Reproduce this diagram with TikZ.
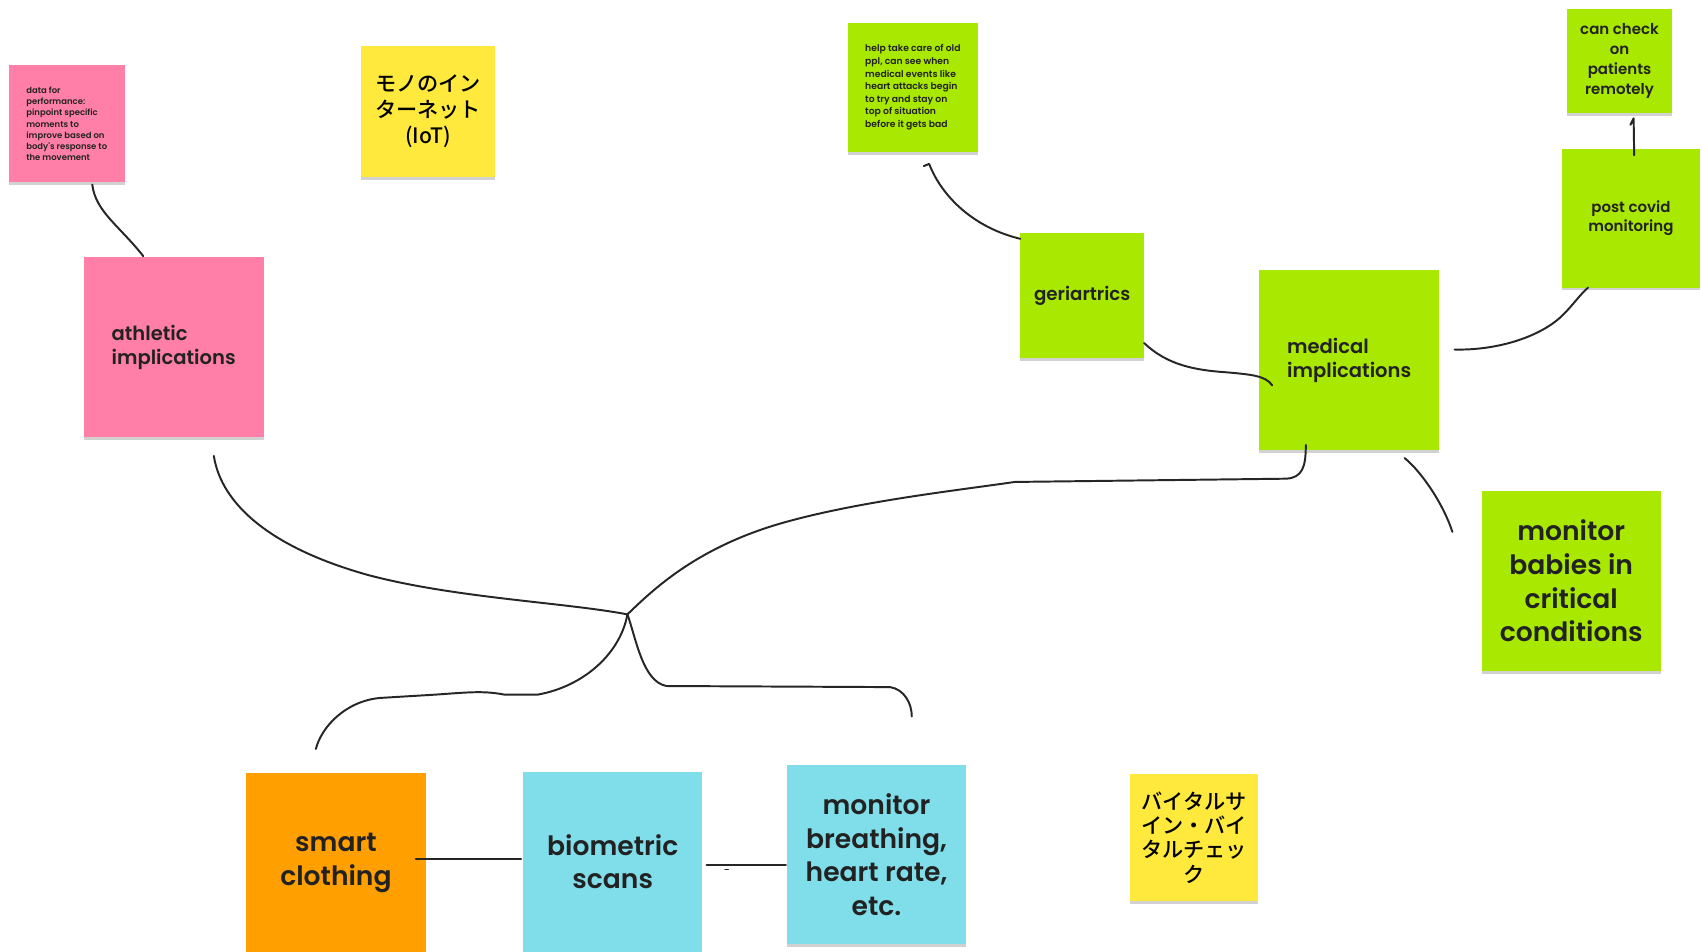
\documentclass[tikz,border=0pt]{standalone}
\usepackage{fontspec}
\setmainfont{Poppins}
\newfontfamily\semib{Poppins}[UprightFont={* SemiBold}]
\newfontfamily\jp{Noto Sans CJK JP}[UprightFont={* Medium}]
\usetikzlibrary{calc,shadows}
\definecolor{notepink}{HTML}{FF7FA8}
\definecolor{noteyellow}{HTML}{FFE93C}
\definecolor{notegreen}{HTML}{A9E800}
\definecolor{noteorange}{HTML}{FFA000}
\definecolor{notecyan}{HTML}{80DEEA}
\definecolor{ink}{HTML}{262626}
\definecolor{txt}{HTML}{222222}
\tikzset{
  note/.style={anchor=north west, inner sep=0pt, outer sep=0pt, align=center, text=txt,
    drop shadow={shadow xshift=0pt, shadow yshift=-2.5pt, opacity=0.18, fill=black}},
  conn/.style={draw=ink, line width=1.8pt, line cap=round, line join=round},
}
\begin{document}
\begin{tikzpicture}[x=1pt,y=-1pt]
\useasboundingbox (0,0) rectangle (1568,877);
\fill[white] (0,0) rectangle (1568,877);

% notes
\node[note, fill=notepink, minimum width=107pt, minimum height=108pt, align=left,
  font=\semib\fontsize{7.8}{10.3}\selectfont] (perf) at (8,60)
  {data for\\performance:\\pinpoint specific\\moments to\\improve based on\\body's response to\\the movement};
\node[note, fill=noteyellow, minimum width=123pt, minimum height=121pt,
  font=\jp\fontsize{19.5}{24}\selectfont, text=black] (iot) at (333,42)
  {モノのイン\\ターネット\\(IoT)};
\node[note, fill=notepink, minimum width=166pt, minimum height=166pt, align=left,
  font=\semib\fontsize{18}{22}\selectfont] (athl) at (77,237)
  {athletic\\implications};
\node[note, fill=notegreen, minimum width=120pt, minimum height=119pt, align=left,
  font=\semib\fontsize{8.5}{11.6}\selectfont] (help) at (781,21)
  {help take care of old\\ppl, can see when\\medical events like\\heart attacks begin\\to try and stay on\\top of situation\\before it gets bad};
\node[note, fill=notegreen, minimum width=96pt, minimum height=96pt,
  font=\semib\fontsize{13.8}{18.5}\selectfont] (check) at (1444,8)
  {can check\\on\\patients\\remotely};
\node[note, fill=notegreen, minimum width=127pt, minimum height=128pt,
  font=\semib\fontsize{13.8}{18}\selectfont] (covid) at (1439,137)
  {post covid\\monitoring};
\node[note, fill=notegreen, minimum width=114pt, minimum height=115pt,
  font=\semib\fontsize{16.8}{20}\selectfont] (geri) at (940,215)
  {geriartrics};
\node[note, fill=notegreen, minimum width=166pt, minimum height=166pt, align=left,
  font=\semib\fontsize{18}{22}\selectfont] (med) at (1160,249)
  {medical\\implications};
\node[note, fill=notegreen, minimum width=165pt, minimum height=166pt,
  font=\semib\fontsize{24.5}{31.3}\selectfont] (babies) at (1365,452)
  {monitor\\babies in\\critical\\conditions};
\node[note, fill=noteorange, minimum width=165pt, minimum height=166pt,
  font=\semib\fontsize{24.5}{31}\selectfont] (smart) at (227,712)
  {smart\\clothing};
\node[note, fill=notecyan, minimum width=165pt, minimum height=166pt,
  font=\semib\fontsize{24.5}{31}\selectfont] (bio) at (482,711)
  {biometric\\scans};
\node[note, fill=notecyan, minimum width=165pt, minimum height=165pt,
  font=\semib\fontsize{24.5}{31}\selectfont] (breath) at (725,705)
  {monitor\\breathing,\\heart rate,\\etc.};
\node[note, fill=noteyellow, minimum width=118pt, minimum height=117pt,
  font=\jp\fontsize{19.5}{22.5}\selectfont, text=black] (vital) at (1041,713)
  {バイタルサ\\イン・バイ\\タルチェッ\\ク};

\coordinate (hub) at (578,566);

% connectors
\draw[conn] ($(perf.south west)+(77,2)$) .. controls +(3,25) and +(-22,-28) .. ($(athl.north west)+(55,-1)$);
\draw[conn] ($(athl.south west)+(120,17)$) .. controls (204,465) and (250,505) .. (340,530)
  .. controls (420,551) and (520,555) .. (hub);
\draw[conn] (hub) .. controls (600,545) and (640,505) .. (720,482)
  .. controls (790,462) and (880,452) .. (935,444) -- (1185,441)
  .. controls (1200,440) and (1203,430) .. ($(med.south west)+(43,-5)$);
\draw[conn] (hub) .. controls (572,600) and (540,632) .. (495,640) -- (465,640)
  .. controls (445,636) and (430,638) .. (400,640) -- (350,643)
  .. controls (318,646) and (296,670) .. ($(smart.north west)+(64,-22)$);
\draw[conn] (hub) .. controls (586,588) and (592,628) .. (614,632) -- (820,633)
  .. controls (833,635) and (840,648) .. ($(breath.north west)+(115,-45)$);
\draw[conn] ($(smart.east)+(-9,-4)$) -- ($(bio.west)+(-2,-3)$);
\draw[conn] ($(bio.east)+(4,3)$) -- ($(breath.west)+(-1,9.5)$);
\draw[conn, line width=1.4pt] ($(bio.east)+(21,7)$) -- ($(bio.east)+(24,7)$);
\draw[conn] ($(geri.south east)+(0,-14)$) .. controls (1075,336) and (1100,341) .. (1130,343)
  .. controls (1152,345) and (1166,346) .. ($(med.west)+(12,23)$);
\draw[conn] ($(help.south west)+(70,13)$) -- ($(help.south west)+(75,11)$)
  .. controls (868,182) and (898,210) .. ($(geri.north west)+(0,5)$);
\draw[conn] ($(med.east)+(14,-10)$) .. controls (1380,323) and (1420,310) .. (1440,290)
  .. controls (1450,280) and (1455,272) .. ($(covid.south west)+(24,0)$);
\draw[conn] ($(covid.north)+(3,6)$) -- ($(check.south)+(13,5)$) -- ($(check.south)+(10,11)$);
\draw[conn] ($(med.south)+(51,7)$) .. controls (1310,435) and (1330,465) .. ($(babies.north west)+(-27,38)$);
\end{tikzpicture}
\end{document}
